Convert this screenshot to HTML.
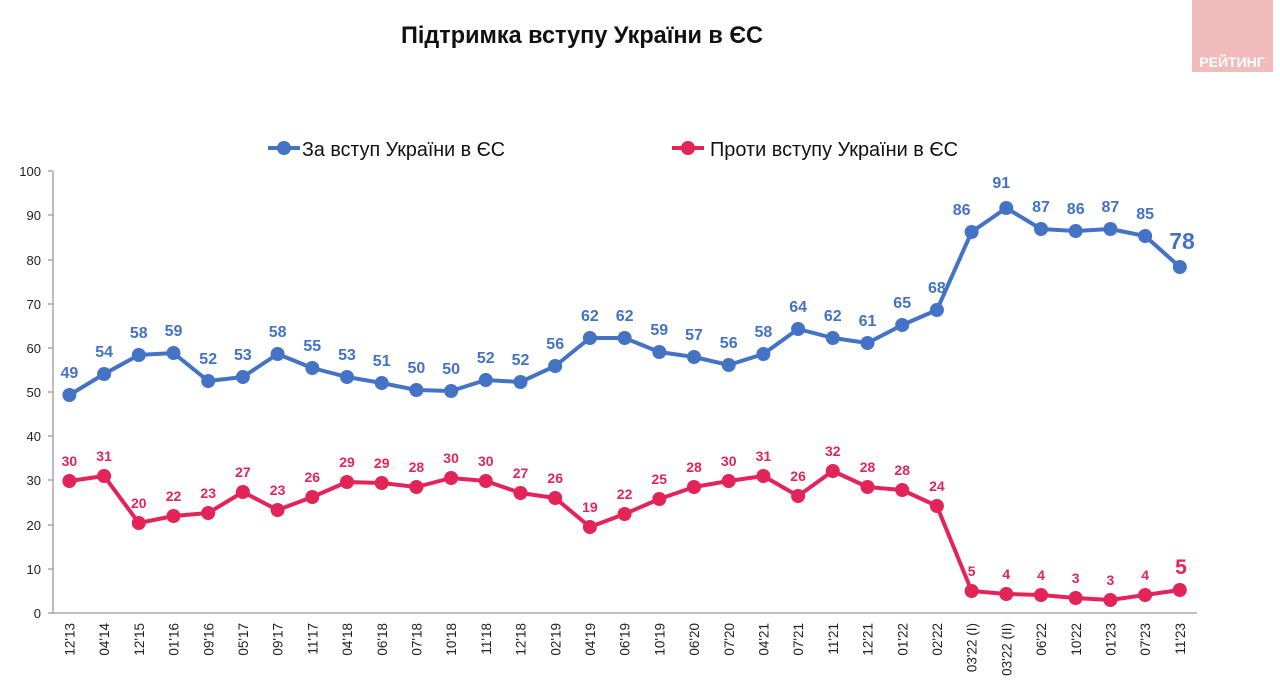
<!DOCTYPE html>
<html><head><meta charset="utf-8"><style>
html,body{margin:0;padding:0;background:#fff;width:1280px;height:694px;overflow:hidden}
svg{display:block;font-family:"Liberation Sans",sans-serif}
</style></head><body>
<svg width="1280" height="694" viewBox="0 0 1280 694">
<rect x="1192" y="0" width="81" height="72" fill="#f2bcbc"/>
<text x="1232" y="67" font-size="14" font-weight="bold" fill="#fff" text-anchor="middle">РЕЙТИНГ</text>
<text x="582" y="43" font-size="24" font-weight="bold" text-anchor="middle" fill="#111" textLength="362" lengthAdjust="spacingAndGlyphs">Підтримка вступу України в ЄС</text>
<line x1="268" y1="148" x2="300" y2="148" stroke="#4472c4" stroke-width="4"/><circle cx="284" cy="148" r="7" fill="#4472c4"/>
<text x="302" y="156" font-size="20" fill="#111" textLength="203" lengthAdjust="spacingAndGlyphs">За вступ України в ЄС</text>
<line x1="672" y1="148" x2="704" y2="148" stroke="#e32459" stroke-width="4"/><circle cx="688" cy="148" r="7" fill="#e32459"/>
<text x="710" y="156" font-size="20" fill="#111" textLength="248" lengthAdjust="spacingAndGlyphs">Проти вступу України в ЄС</text>
<g stroke="#999" stroke-width="1.3">
<line x1="53" y1="171" x2="53" y2="613"/><line x1="53" y1="613" x2="1197" y2="613"/>
<line x1="48" y1="171" x2="53" y2="171"/><line x1="48" y1="215" x2="53" y2="215"/><line x1="48" y1="260" x2="53" y2="260"/><line x1="48" y1="304" x2="53" y2="304"/><line x1="48" y1="348" x2="53" y2="348"/><line x1="48" y1="392" x2="53" y2="392"/><line x1="48" y1="436" x2="53" y2="436"/><line x1="48" y1="480" x2="53" y2="480"/><line x1="48" y1="525" x2="53" y2="525"/><line x1="48" y1="569" x2="53" y2="569"/><line x1="48" y1="613" x2="53" y2="613"/>
</g>
<g font-size="13" fill="#222" text-anchor="end">
<text x="41" y="176">100</text><text x="41" y="220">90</text><text x="41" y="265">80</text><text x="41" y="309">70</text><text x="41" y="353">60</text><text x="41" y="397">50</text><text x="41" y="441">40</text><text x="41" y="485">30</text><text x="41" y="530">20</text><text x="41" y="574">10</text><text x="41" y="618">0</text>
</g>
<g font-size="13.5" fill="#222" text-anchor="end">
<text transform="translate(74.5,623) rotate(-90)">12'13</text>
<text transform="translate(109.2,623) rotate(-90)">04'14</text>
<text transform="translate(143.9,623) rotate(-90)">12'15</text>
<text transform="translate(178.6,623) rotate(-90)">01'16</text>
<text transform="translate(213.3,623) rotate(-90)">09'16</text>
<text transform="translate(248,623) rotate(-90)">05'17</text>
<text transform="translate(282.7,623) rotate(-90)">09'17</text>
<text transform="translate(317.4,623) rotate(-90)">11'17</text>
<text transform="translate(352.1,623) rotate(-90)">04'18</text>
<text transform="translate(386.8,623) rotate(-90)">06'18</text>
<text transform="translate(421.5,623) rotate(-90)">07'18</text>
<text transform="translate(456.2,623) rotate(-90)">10'18</text>
<text transform="translate(490.9,623) rotate(-90)">11'18</text>
<text transform="translate(525.6,623) rotate(-90)">12'18</text>
<text transform="translate(560.3,623) rotate(-90)">02'19</text>
<text transform="translate(595,623) rotate(-90)">04'19</text>
<text transform="translate(629.7,623) rotate(-90)">06'19</text>
<text transform="translate(664.4,623) rotate(-90)">10'19</text>
<text transform="translate(699.1,623) rotate(-90)">06'20</text>
<text transform="translate(733.8,623) rotate(-90)">07'20</text>
<text transform="translate(768.5,623) rotate(-90)">04'21</text>
<text transform="translate(803.2,623) rotate(-90)">07'21</text>
<text transform="translate(837.9,623) rotate(-90)">11'21</text>
<text transform="translate(872.6,623) rotate(-90)">12'21</text>
<text transform="translate(907.3,623) rotate(-90)">01'22</text>
<text transform="translate(942,623) rotate(-90)">02'22</text>
<text transform="translate(976.7,623) rotate(-90)">03'22 (I)</text>
<text transform="translate(1011.4,623) rotate(-90)">03'22 (II)</text>
<text transform="translate(1046.1,623) rotate(-90)">06'22</text>
<text transform="translate(1080.8,623) rotate(-90)">10'22</text>
<text transform="translate(1115.5,623) rotate(-90)">01'23</text>
<text transform="translate(1150.2,623) rotate(-90)">07'23</text>
<text transform="translate(1184.9,623) rotate(-90)">11'23</text>
</g>
<polyline fill="none" stroke="#4472c4" stroke-width="4" stroke-linejoin="round" points="69.4,395 104.1,374 138.8,355 173.5,353 208.2,381 242.9,377 277.6,354 312.3,368 347,377 381.7,383 416.4,390 451.1,391 485.8,380 520.5,382 555.2,366 589.9,338 624.6,338 659.3,352 694,357 728.7,365 763.4,354 798.1,329 832.8,338 867.5,343 902.2,325 936.9,310 971.6,232 1006.3,208 1041,229 1075.7,231 1110.4,229 1145.1,236 1179.8,267"/>
<g fill="#4472c4">
<circle cx="69.4" cy="395" r="7"/><circle cx="104.1" cy="374" r="7"/><circle cx="138.8" cy="355" r="7"/><circle cx="173.5" cy="353" r="7"/><circle cx="208.2" cy="381" r="7"/><circle cx="242.9" cy="377" r="7"/><circle cx="277.6" cy="354" r="7"/><circle cx="312.3" cy="368" r="7"/><circle cx="347" cy="377" r="7"/><circle cx="381.7" cy="383" r="7"/><circle cx="416.4" cy="390" r="7"/><circle cx="451.1" cy="391" r="7"/><circle cx="485.8" cy="380" r="7"/><circle cx="520.5" cy="382" r="7"/><circle cx="555.2" cy="366" r="7"/><circle cx="589.9" cy="338" r="7"/><circle cx="624.6" cy="338" r="7"/><circle cx="659.3" cy="352" r="7"/><circle cx="694" cy="357" r="7"/><circle cx="728.7" cy="365" r="7"/><circle cx="763.4" cy="354" r="7"/><circle cx="798.1" cy="329" r="7"/><circle cx="832.8" cy="338" r="7"/><circle cx="867.5" cy="343" r="7"/><circle cx="902.2" cy="325" r="7"/><circle cx="936.9" cy="310" r="7"/><circle cx="971.6" cy="232" r="7"/><circle cx="1006.3" cy="208" r="7"/><circle cx="1041" cy="229" r="7"/><circle cx="1075.7" cy="231" r="7"/><circle cx="1110.4" cy="229" r="7"/><circle cx="1145.1" cy="236" r="7"/><circle cx="1179.8" cy="267" r="7"/>
</g>
<g fill="#4472c4" font-size="16" font-weight="bold" text-anchor="middle">
<text x="69.4" y="378">49</text><text x="104.1" y="357">54</text><text x="138.8" y="338">58</text><text x="173.5" y="336">59</text><text x="208.2" y="364">52</text><text x="242.9" y="360">53</text><text x="277.6" y="337">58</text><text x="312.3" y="351">55</text><text x="347" y="360">53</text><text x="381.7" y="366">51</text><text x="416.4" y="373">50</text><text x="451.1" y="374">50</text><text x="485.8" y="363">52</text><text x="520.5" y="365">52</text><text x="555.2" y="349">56</text><text x="589.9" y="321">62</text><text x="624.6" y="321">62</text><text x="659.3" y="335">59</text><text x="694" y="340">57</text><text x="728.7" y="348">56</text><text x="763.4" y="337">58</text><text x="798.1" y="312">64</text><text x="832.8" y="321">62</text><text x="867.5" y="326">61</text><text x="902.2" y="308">65</text><text x="936.9" y="293">68</text><text x="961.6" y="215">86</text><text x="1001.3" y="188">91</text><text x="1041" y="212">87</text><text x="1075.7" y="214">86</text><text x="1110.4" y="212">87</text><text x="1145.1" y="219">85</text><text x="1182" y="249" font-size="23">78</text>
</g>
<polyline fill="none" stroke="#e32459" stroke-width="4" stroke-linejoin="round" points="69.4,481 104.1,476 138.8,523 173.5,516 208.2,513 242.9,492 277.6,510 312.3,497 347,482 381.7,483 416.4,487 451.1,478 485.8,481 520.5,493 555.2,498 589.9,527 624.6,514 659.3,499 694,487 728.7,481 763.4,476 798.1,496 832.8,471 867.5,487 902.2,490 936.9,506 971.6,591 1006.3,594 1041,595 1075.7,598 1110.4,600 1145.1,595 1179.8,590"/>
<g fill="#e32459">
<circle cx="69.4" cy="481" r="7"/><circle cx="104.1" cy="476" r="7"/><circle cx="138.8" cy="523" r="7"/><circle cx="173.5" cy="516" r="7"/><circle cx="208.2" cy="513" r="7"/><circle cx="242.9" cy="492" r="7"/><circle cx="277.6" cy="510" r="7"/><circle cx="312.3" cy="497" r="7"/><circle cx="347" cy="482" r="7"/><circle cx="381.7" cy="483" r="7"/><circle cx="416.4" cy="487" r="7"/><circle cx="451.1" cy="478" r="7"/><circle cx="485.8" cy="481" r="7"/><circle cx="520.5" cy="493" r="7"/><circle cx="555.2" cy="498" r="7"/><circle cx="589.9" cy="527" r="7"/><circle cx="624.6" cy="514" r="7"/><circle cx="659.3" cy="499" r="7"/><circle cx="694" cy="487" r="7"/><circle cx="728.7" cy="481" r="7"/><circle cx="763.4" cy="476" r="7"/><circle cx="798.1" cy="496" r="7"/><circle cx="832.8" cy="471" r="7"/><circle cx="867.5" cy="487" r="7"/><circle cx="902.2" cy="490" r="7"/><circle cx="936.9" cy="506" r="7"/><circle cx="971.6" cy="591" r="7"/><circle cx="1006.3" cy="594" r="7"/><circle cx="1041" cy="595" r="7"/><circle cx="1075.7" cy="598" r="7"/><circle cx="1110.4" cy="600" r="7"/><circle cx="1145.1" cy="595" r="7"/><circle cx="1179.8" cy="590" r="7"/>
</g>
<g fill="#e32459" font-size="14" font-weight="bold" text-anchor="middle">
<text x="69.4" y="466">30</text><text x="104.1" y="461">31</text><text x="138.8" y="508">20</text><text x="173.5" y="501">22</text><text x="208.2" y="498">23</text><text x="242.9" y="477">27</text><text x="277.6" y="495">23</text><text x="312.3" y="482">26</text><text x="347" y="467">29</text><text x="381.7" y="468">29</text><text x="416.4" y="472">28</text><text x="451.1" y="463">30</text><text x="485.8" y="466">30</text><text x="520.5" y="478">27</text><text x="555.2" y="483">26</text><text x="589.9" y="512">19</text><text x="624.6" y="499">22</text><text x="659.3" y="484">25</text><text x="694" y="472">28</text><text x="728.7" y="466">30</text><text x="763.4" y="461">31</text><text x="798.1" y="481">26</text><text x="832.8" y="456">32</text><text x="867.5" y="472">28</text><text x="902.2" y="475">28</text><text x="936.9" y="491">24</text><text x="971.6" y="576">5</text><text x="1006.3" y="579">4</text><text x="1041" y="580">4</text><text x="1075.7" y="583">3</text><text x="1110.4" y="585">3</text><text x="1145.1" y="580">4</text><text x="1181" y="574" font-size="21">5</text>
</g>
</svg>
</body></html>
